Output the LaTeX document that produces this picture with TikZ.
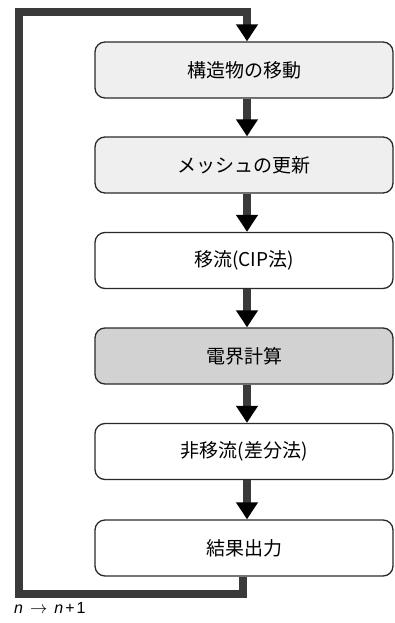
\documentclass[tikz,border=0pt]{standalone}
\usepackage{fontspec}
\newfontfamily\jp{Noto Sans CJK JP}
\newfontfamily\lsans{Liberation Sans}
\usetikzlibrary{arrows.meta}
\definecolor{lightfill}{HTML}{EFEFEF}
\definecolor{darkfill}{HTML}{D2D2D2}
\definecolor{edgecol}{HTML}{2A2A2A}
\definecolor{shaftcol}{HTML}{3A3A3A}
\begin{document}
\begin{tikzpicture}[x=1pt,y=-1pt,
  box/.style={draw=edgecol, line width=1.3pt, rounded corners=10pt,
    minimum width=298pt, minimum height=56pt, inner sep=0pt,
    font=\jp\fontsize{19}{22}\selectfont},
  flow/.style={draw=shaftcol, line width=8.5pt,
    -{Triangle[width=21pt,length=17pt,color=black]}},
  loopline/.style={draw=shaftcol, line width=8pt}
]
\useasboundingbox (0,0) rectangle (394,623);
\node[box, fill=lightfill] (b1) at (244,70) {構造物の移動};
\node[box, fill=lightfill] (b2) at (244,165) {メッシュの更新};
\node[box, fill=white] (b3) at (244,260.5) {移流(CIP法)};
\node[box, fill=darkfill] (b4) at (244,356) {電界計算};
\node[box, fill=white] (b5) at (244,451.5) {非移流(差分法)};
\node[box, fill=white] (b6) at (244,548) {結果出力};
\foreach \a/\b in {b1/b2,b2/b3,b3/b4,b4/b5,b5/b6}
  \draw[flow] ([xshift=3pt]\a.south) -- ([xshift=3pt]\b.north);
\coordinate (c1) at (243,594);
\coordinate (c2) at (19,594);
\coordinate (c3) at (19,12);
\coordinate (c4) at (247,12);
\draw[loopline, line join=miter] ([xshift=-1pt]b6.south) -- (c1) -- (c2) -- (c3) -- (c4);
\draw[flow, line join=miter] ([xshift=-4pt]c4) -- (c4) -- ([xshift=3pt]b1.north);
\node[anchor=west, inner sep=0pt, font=\lsans\fontsize{16}{18}\selectfont] (lbl) at (14,608)
  {\textit{n}\hspace{7pt}$\rightarrow$\hspace{7pt}\textit{n}\hspace{2pt}+\hspace{2pt}1};
\end{tikzpicture}
\end{document}
